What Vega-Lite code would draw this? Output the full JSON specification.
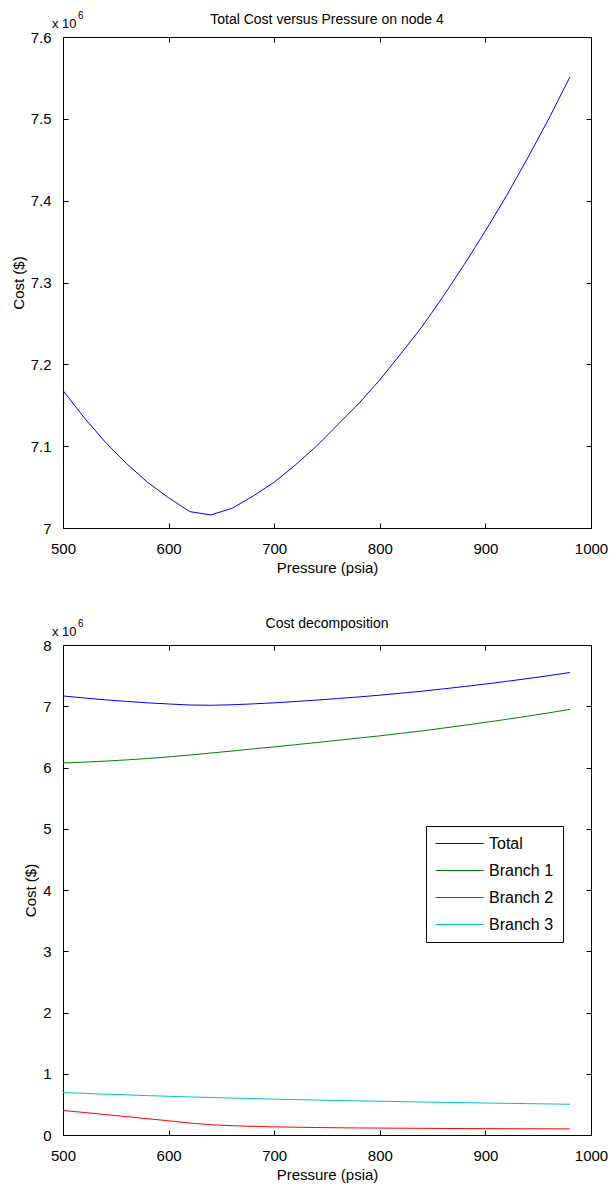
{
  "$schema": "https://vega.github.io/schema/vega-lite/v6.json",
  "background": "white",
  "padding": {"left": 10, "top": 10, "right": 5, "bottom": 5},
  "spacing": 40,
  "datasets": {
    "cost": [
      {"pressure": 500, "series": "Total", "cost": 7.168},
      {"pressure": 520, "series": "Total", "cost": 7.135},
      {"pressure": 540, "series": "Total", "cost": 7.105},
      {"pressure": 560, "series": "Total", "cost": 7.079},
      {"pressure": 580, "series": "Total", "cost": 7.056},
      {"pressure": 600, "series": "Total", "cost": 7.037},
      {"pressure": 620, "series": "Total", "cost": 7.020},
      {"pressure": 640, "series": "Total", "cost": 7.016},
      {"pressure": 660, "series": "Total", "cost": 7.024},
      {"pressure": 680, "series": "Total", "cost": 7.039},
      {"pressure": 700, "series": "Total", "cost": 7.056},
      {"pressure": 720, "series": "Total", "cost": 7.077},
      {"pressure": 740, "series": "Total", "cost": 7.100},
      {"pressure": 760, "series": "Total", "cost": 7.126},
      {"pressure": 780, "series": "Total", "cost": 7.152},
      {"pressure": 800, "series": "Total", "cost": 7.181},
      {"pressure": 820, "series": "Total", "cost": 7.213},
      {"pressure": 840, "series": "Total", "cost": 7.246},
      {"pressure": 860, "series": "Total", "cost": 7.283},
      {"pressure": 880, "series": "Total", "cost": 7.322},
      {"pressure": 900, "series": "Total", "cost": 7.363},
      {"pressure": 920, "series": "Total", "cost": 7.406},
      {"pressure": 940, "series": "Total", "cost": 7.452},
      {"pressure": 960, "series": "Total", "cost": 7.500},
      {"pressure": 980, "series": "Total", "cost": 7.551},
      {"pressure": 500, "series": "Branch 1", "cost": 6.074},
      {"pressure": 520, "series": "Branch 1", "cost": 6.087},
      {"pressure": 540, "series": "Branch 1", "cost": 6.104},
      {"pressure": 560, "series": "Branch 1", "cost": 6.124},
      {"pressure": 580, "series": "Branch 1", "cost": 6.147},
      {"pressure": 600, "series": "Branch 1", "cost": 6.173},
      {"pressure": 620, "series": "Branch 1", "cost": 6.203},
      {"pressure": 640, "series": "Branch 1", "cost": 6.236},
      {"pressure": 660, "series": "Branch 1", "cost": 6.269},
      {"pressure": 680, "series": "Branch 1", "cost": 6.304},
      {"pressure": 700, "series": "Branch 1", "cost": 6.337},
      {"pressure": 720, "series": "Branch 1", "cost": 6.372},
      {"pressure": 740, "series": "Branch 1", "cost": 6.407},
      {"pressure": 760, "series": "Branch 1", "cost": 6.444},
      {"pressure": 780, "series": "Branch 1", "cost": 6.480},
      {"pressure": 800, "series": "Branch 1", "cost": 6.517},
      {"pressure": 820, "series": "Branch 1", "cost": 6.557},
      {"pressure": 840, "series": "Branch 1", "cost": 6.598},
      {"pressure": 860, "series": "Branch 1", "cost": 6.643},
      {"pressure": 880, "series": "Branch 1", "cost": 6.689},
      {"pressure": 900, "series": "Branch 1", "cost": 6.737},
      {"pressure": 920, "series": "Branch 1", "cost": 6.786},
      {"pressure": 940, "series": "Branch 1", "cost": 6.838},
      {"pressure": 960, "series": "Branch 1", "cost": 6.892},
      {"pressure": 980, "series": "Branch 1", "cost": 6.949},
      {"pressure": 500, "series": "Branch 2", "cost": 0.400},
      {"pressure": 520, "series": "Branch 2", "cost": 0.368},
      {"pressure": 540, "series": "Branch 2", "cost": 0.334},
      {"pressure": 560, "series": "Branch 2", "cost": 0.300},
      {"pressure": 580, "series": "Branch 2", "cost": 0.266},
      {"pressure": 600, "series": "Branch 2", "cost": 0.232},
      {"pressure": 620, "series": "Branch 2", "cost": 0.195},
      {"pressure": 640, "series": "Branch 2", "cost": 0.168},
      {"pressure": 660, "series": "Branch 2", "cost": 0.152},
      {"pressure": 680, "series": "Branch 2", "cost": 0.141},
      {"pressure": 700, "series": "Branch 2", "cost": 0.133},
      {"pressure": 720, "series": "Branch 2", "cost": 0.127},
      {"pressure": 740, "series": "Branch 2", "cost": 0.122},
      {"pressure": 760, "series": "Branch 2", "cost": 0.118},
      {"pressure": 780, "series": "Branch 2", "cost": 0.115},
      {"pressure": 800, "series": "Branch 2", "cost": 0.113},
      {"pressure": 820, "series": "Branch 2", "cost": 0.111},
      {"pressure": 840, "series": "Branch 2", "cost": 0.109},
      {"pressure": 860, "series": "Branch 2", "cost": 0.107},
      {"pressure": 880, "series": "Branch 2", "cost": 0.105},
      {"pressure": 900, "series": "Branch 2", "cost": 0.104},
      {"pressure": 920, "series": "Branch 2", "cost": 0.103},
      {"pressure": 940, "series": "Branch 2", "cost": 0.102},
      {"pressure": 960, "series": "Branch 2", "cost": 0.101},
      {"pressure": 980, "series": "Branch 2", "cost": 0.100},
      {"pressure": 500, "series": "Branch 3", "cost": 0.694},
      {"pressure": 520, "series": "Branch 3", "cost": 0.680},
      {"pressure": 540, "series": "Branch 3", "cost": 0.667},
      {"pressure": 560, "series": "Branch 3", "cost": 0.655},
      {"pressure": 580, "series": "Branch 3", "cost": 0.643},
      {"pressure": 600, "series": "Branch 3", "cost": 0.632},
      {"pressure": 620, "series": "Branch 3", "cost": 0.622},
      {"pressure": 640, "series": "Branch 3", "cost": 0.612},
      {"pressure": 660, "series": "Branch 3", "cost": 0.603},
      {"pressure": 680, "series": "Branch 3", "cost": 0.594},
      {"pressure": 700, "series": "Branch 3", "cost": 0.586},
      {"pressure": 720, "series": "Branch 3", "cost": 0.578},
      {"pressure": 740, "series": "Branch 3", "cost": 0.571},
      {"pressure": 760, "series": "Branch 3", "cost": 0.564},
      {"pressure": 780, "series": "Branch 3", "cost": 0.557},
      {"pressure": 800, "series": "Branch 3", "cost": 0.551},
      {"pressure": 820, "series": "Branch 3", "cost": 0.545},
      {"pressure": 840, "series": "Branch 3", "cost": 0.539},
      {"pressure": 860, "series": "Branch 3", "cost": 0.533},
      {"pressure": 880, "series": "Branch 3", "cost": 0.528},
      {"pressure": 900, "series": "Branch 3", "cost": 0.522},
      {"pressure": 920, "series": "Branch 3", "cost": 0.517},
      {"pressure": 940, "series": "Branch 3", "cost": 0.512},
      {"pressure": 960, "series": "Branch 3", "cost": 0.507},
      {"pressure": 980, "series": "Branch 3", "cost": 0.502}
    ]
  },
  "config": {
    "view": {"stroke": "black", "strokeWidth": 1},
    "axis": {
      "grid": false,
      "domain": false,
      "tickColor": "black",
      "tickSize": -5,
      "labelColor": "black",
      "titleColor": "black",
      "labelFont": "Liberation Sans",
      "labelFontSize": 15,
      "titleFont": "Liberation Sans",
      "titleFontSize": 15,
      "titleFontWeight": "normal",
      "labelOverlap": false,
      "labelFlush": false
    },
    "title": {"font": "Liberation Sans", "fontSize": 14, "fontWeight": "normal", "color": "black", "baseline": "alphabetic"}
  },
  "vconcat": [
    {
      "width": 528,
      "height": 491,
      "title": {"text": "Total Cost versus Pressure on node 4", "offset": -16},
      "data": {"name": "cost"},
      "transform": [{"filter": "datum.series === 'Total'"}],
      "layer": [
        {
          "mark": {"type": "line", "color": "#0000ff", "strokeWidth": 1},
          "encoding": {
            "x": {"field": "pressure", "type": "quantitative", "scale": {"domain": [500, 1000], "nice": false, "zero": false},
                  "axis": {"orient": "bottom", "title": "Pressure (psia)", "values": [500, 600, 700, 800, 900, 1000], "labelPadding": 18, "titlePadding": 4, "format": "d"}},
            "y": {"field": "cost", "type": "quantitative", "scale": {"domain": [7, 7.6], "nice": false, "zero": false},
                  "axis": {"orient": "left", "title": "Cost ($)", "values": [7, 7.1, 7.2, 7.3, 7.4, 7.5, 7.6], "labelPadding": 17, "titlePadding": 4, "format": "~f"}}
          }
        },
        {
          "mark": {"type": "line", "strokeOpacity": 0},
          "encoding": {
            "x": {"field": "pressure", "type": "quantitative", "axis": {"orient": "top", "labels": false, "title": null, "values": [500, 600, 700, 800, 900, 1000]}},
            "y": {"field": "cost", "type": "quantitative", "axis": {"orient": "right", "labels": false, "title": null, "values": [7, 7.1, 7.2, 7.3, 7.4, 7.5, 7.6]}}
          }
        },
        {
          "data": {"values": [{"label": "x 10", "p": 500, "c": 7.6}]},
          "mark": {"type": "text", "align": "left", "baseline": "alphabetic", "dx": -11, "dy": -9, "font": "Liberation Sans", "fontSize": 13, "color": "black"},
          "encoding": {
            "x": {"field": "p", "type": "quantitative", "axis": null},
            "y": {"field": "c", "type": "quantitative", "axis": null},
            "text": {"field": "label"}
          }
        },
        {
          "data": {"values": [{"label": "6", "p": 500, "c": 7.6}]},
          "mark": {"type": "text", "align": "left", "baseline": "alphabetic", "dx": 15, "dy": -18, "font": "Liberation Sans", "fontSize": 10, "color": "black"},
          "encoding": {
            "x": {"field": "p", "type": "quantitative", "axis": null},
            "y": {"field": "c", "type": "quantitative", "axis": null},
            "text": {"field": "label"}
          }
        }
      ],
      "resolve": {"axis": {"x": "independent", "y": "independent"}}
    },
    {
      "width": 528,
      "height": 490,
      "title": {"text": "Cost decomposition", "offset": -12},
      "data": {"name": "cost"},
      "layer": [
        {
          "mark": {"type": "line", "strokeWidth": 1},
          "encoding": {
            "x": {"field": "pressure", "type": "quantitative", "scale": {"domain": [500, 1000], "nice": false, "zero": false},
                  "axis": {"orient": "bottom", "title": "Pressure (psia)", "values": [500, 600, 700, 800, 900, 1000], "labelPadding": 18, "titlePadding": 4, "format": "d"}},
            "y": {"field": "cost", "type": "quantitative", "scale": {"domain": [0, 8], "nice": false},
                  "axis": {"orient": "left", "title": "Cost ($)", "values": [0, 1, 2, 3, 4, 5, 6, 7, 8], "labelPadding": 17, "titlePadding": 4, "format": "d"}},
            "color": {"field": "series", "type": "nominal",
                      "scale": {"domain": ["Total", "Branch 1", "Branch 2", "Branch 3"], "range": ["#0000ff", "#008000", "#ff0000", "#00bfbf"]},
                      "legend": {"orient": "none", "legendX": 363, "legendY": 789, "title": null, "symbolType": "stroke", "symbolSize": 2304, "symbolStrokeWidth": 1,
                                 "clipHeight": 17, "labelFont": "Liberation Sans", "labelFontSize": 16, "labelColor": "black", "strokeColor": "black", "fillColor": "white",
                                 "padding": 9, "rowPadding": 10, "labelOffset": 5}}
          }
        },
        {
          "mark": {"type": "line", "strokeOpacity": 0},
          "encoding": {
            "x": {"field": "pressure", "type": "quantitative", "axis": {"orient": "top", "labels": false, "title": null, "values": [500, 600, 700, 800, 900, 1000]}},
            "y": {"field": "cost", "type": "quantitative", "axis": {"orient": "right", "labels": false, "title": null, "values": [0, 1, 2, 3, 4, 5, 6, 7, 8]}},
            "detail": {"field": "series"}
          }
        },
        {
          "data": {"values": [{"label": "x 10", "p": 500, "c": 8}]},
          "mark": {"type": "text", "align": "left", "baseline": "alphabetic", "dx": -11, "dy": -9, "font": "Liberation Sans", "fontSize": 13, "color": "black"},
          "encoding": {
            "x": {"field": "p", "type": "quantitative", "axis": null},
            "y": {"field": "c", "type": "quantitative", "axis": null},
            "text": {"field": "label"}
          }
        },
        {
          "data": {"values": [{"label": "6", "p": 500, "c": 8}]},
          "mark": {"type": "text", "align": "left", "baseline": "alphabetic", "dx": 15, "dy": -18, "font": "Liberation Sans", "fontSize": 10, "color": "black"},
          "encoding": {
            "x": {"field": "p", "type": "quantitative", "axis": null},
            "y": {"field": "c", "type": "quantitative", "axis": null},
            "text": {"field": "label"}
          }
        }
      ],
      "resolve": {"axis": {"x": "independent", "y": "independent"}}
    }
  ]
}
